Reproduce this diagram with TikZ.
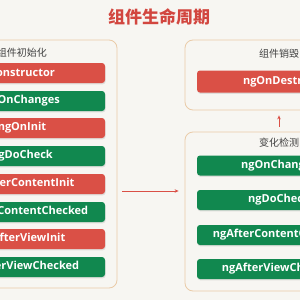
\documentclass[tikz,border=0pt]{standalone}
\usepackage{fontspec}
\setmainfont{Open Sans}
\newfontfamily\cjk{Noto Sans CJK SC}
\usetikzlibrary{shadows, arrows.meta}

\definecolor{hookred}{HTML}{DA5046}
\definecolor{hookgreen}{HTML}{11884F}
\definecolor{frametan}{HTML}{EACBA8}
\definecolor{paper}{HTML}{F7F6F2}
\definecolor{titlered}{HTML}{D2463F}

\tikzset{
  hook/.style={rectangle, rounded corners=3pt, minimum width=166pt, minimum height=20pt,
    text=white, font=\bfseries\fontsize{11}{13}\selectfont,
    drop shadow={opacity=0.2, shadow xshift=0.6pt, shadow yshift=-1.4pt}},
  red hook/.style={hook, fill=hookred},
  green hook/.style={hook, fill=hookgreen},
  phase/.style={draw=frametan, line width=0.8pt, rounded corners=8pt, fill=paper},
  phase label/.style={font=\cjk\fontsize{10}{12}\selectfont, text=black!75},
  flow/.style={draw=hookred, line width=0.8pt, -{Stealth[length=4pt, width=3.5pt]}},
}

\begin{document}
\begin{tikzpicture}[x=1pt, y=-1pt]
  \clip (0, 0) rectangle (300, 300);
  \fill[paper] (0, 0) rectangle (300, 300);
  \node[font=\cjk\bfseries\fontsize{17}{20}\selectfont, text=titlered] (title) at (159, 17) {组件生命周期};

  % init phase
  \node[phase, minimum width=190pt, minimum height=248pt] (init) at (22, 164) {};
  \node[phase label] (initlabel) at (22, 53) {组件初始化};
  \node[red hook] (ctor) at (22, 73) {Constructor};
  \node[green hook] (changes) at (22, 101) {ngOnChanges};
  \node[red hook] (oninit) at (22, 128) {ngOnInit};
  \node[green hook] (docheck) at (22, 156) {ngDoCheck};
  \node[red hook] (contentinit) at (22, 184) {ngAfterContentInit};
  \node[green hook] (contentchecked) at (22, 212) {ngAfterContentChecked};
  \node[red hook] (viewinit) at (22, 239) {ngAfterViewInit};
  \node[green hook] (viewchecked) at (22, 267) {ngAfterViewChecked};

  % destroy phase
  \node[phase, minimum width=188pt, minimum height=70pt] (destroy) at (279, 75) {};
  \node[phase label] (destroylabel) at (279, 54) {组件销毁};
  \node[red hook, minimum width=164pt, minimum height=22pt] (ondestroy) at (279, 81.5) {ngOnDestroy};

  % change detection phase
  \node[phase, minimum width=188pt, minimum height=159pt] (check) at (279, 211.5) {};
  \node[phase label] (checklabel) at (279, 143) {变化检测};
  \node[green hook, minimum width=164pt] (cdchanges) at (279, 165.5) {ngOnChanges};
  \node[green hook, minimum width=164pt] (cddocheck) at (279, 200) {ngDoCheck};
  \node[green hook, minimum width=164pt] (cdcontent) at (279, 235) {ngAfterContentChecked};
  \node[green hook, minimum width=164pt] (cdview) at (279, 269) {ngAfterViewChecked};

  \draw[flow, shorten <=5pt, shorten >=6pt] ([yshift=-27pt]init.east) -- ([yshift=20.5pt]check.west);
  \draw[flow, shorten <=5pt, shorten >=5pt] (check.north) -- (destroy.south);
\end{tikzpicture}
\end{document}
